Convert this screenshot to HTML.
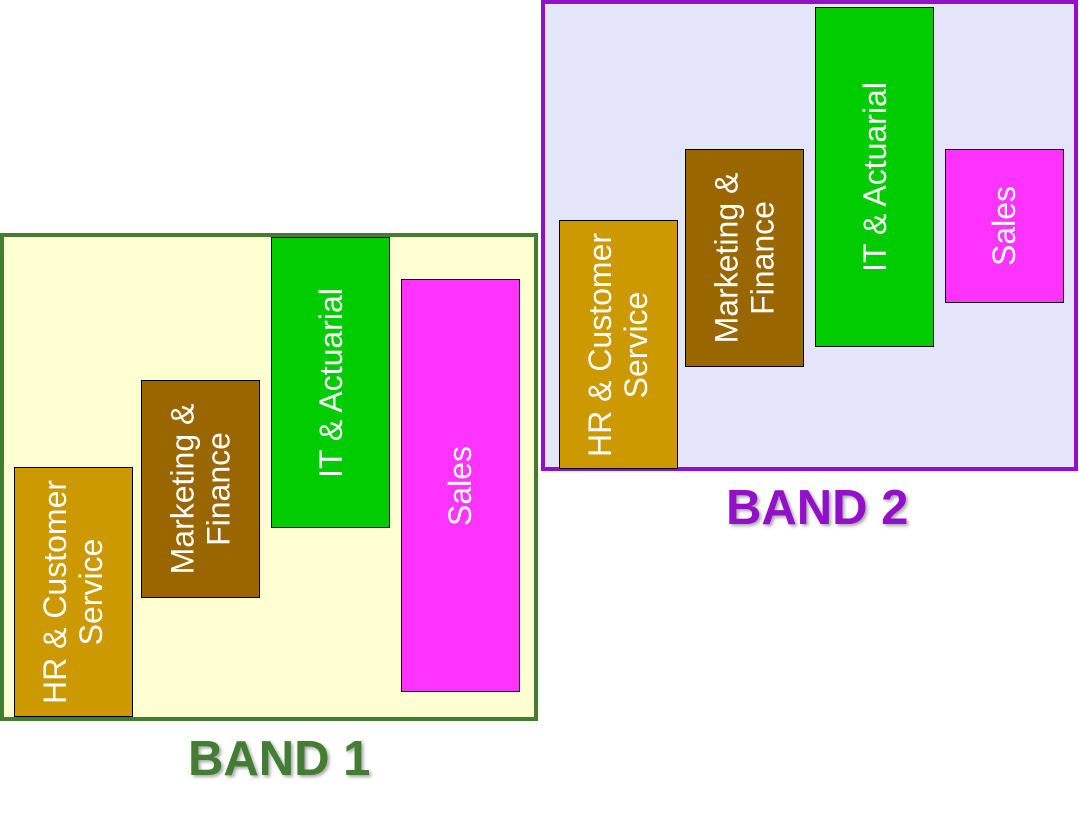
<!DOCTYPE html>
<html><head><style>
body{margin:0;width:1079px;height:824px;background:#fff;position:relative;overflow:hidden;font-family:"Liberation Sans",Arial,sans-serif}
.box{position:absolute;box-sizing:border-box;border:4px solid}
.bar{position:absolute;box-sizing:border-box;border:1.5px solid #000;display:flex;align-items:center;justify-content:center}
.bar span{transform:rotate(-90deg);white-space:nowrap;color:#fff;font-size:32px;text-align:center;line-height:36px}
.lbl{position:absolute;font-weight:bold;font-size:49px;text-shadow:2px 2px 3px rgba(0,0,0,.35)}
.hr{background:#cc9900}.mk{background:#996600}.it{background:#00cc00}.sa{background:#ff33ff}
</style></head><body>
<div class="box" style="left:0;top:233px;width:538px;height:488px;border-color:#437c33;background:#ffffd2"></div>
<div class="box" style="left:541px;top:0;width:537px;height:471px;border-color:#9410c8;background:#e4e4fa"></div>

<div class="bar hr" style="left:14px;top:467px;width:119px;height:250px"><span>HR &amp; Customer<br>Service</span></div>
<div class="bar mk" style="left:141px;top:380px;width:119px;height:218px"><span>Marketing &amp;<br>Finance</span></div>
<div class="bar it" style="left:271px;top:237px;width:119px;height:291px"><span>IT &amp; Actuarial</span></div>
<div class="bar sa" style="left:401px;top:279px;width:119px;height:413px"><span>Sales</span></div>

<div class="bar hr" style="left:559px;top:220px;width:119px;height:249px"><span>HR &amp; Customer<br>Service</span></div>
<div class="bar mk" style="left:685px;top:149px;width:119px;height:218px"><span>Marketing &amp;<br>Finance</span></div>
<div class="bar it" style="left:815px;top:7px;width:119px;height:340px"><span>IT &amp; Actuarial</span></div>
<div class="bar sa" style="left:945px;top:149px;width:119px;height:154px"><span>Sales</span></div>

<div class="lbl" style="left:188px;top:731px;color:#437c33">BAND 1</div>
<div class="lbl" style="left:726px;top:480px;color:#9410c8">BAND 2</div>
</body></html>
